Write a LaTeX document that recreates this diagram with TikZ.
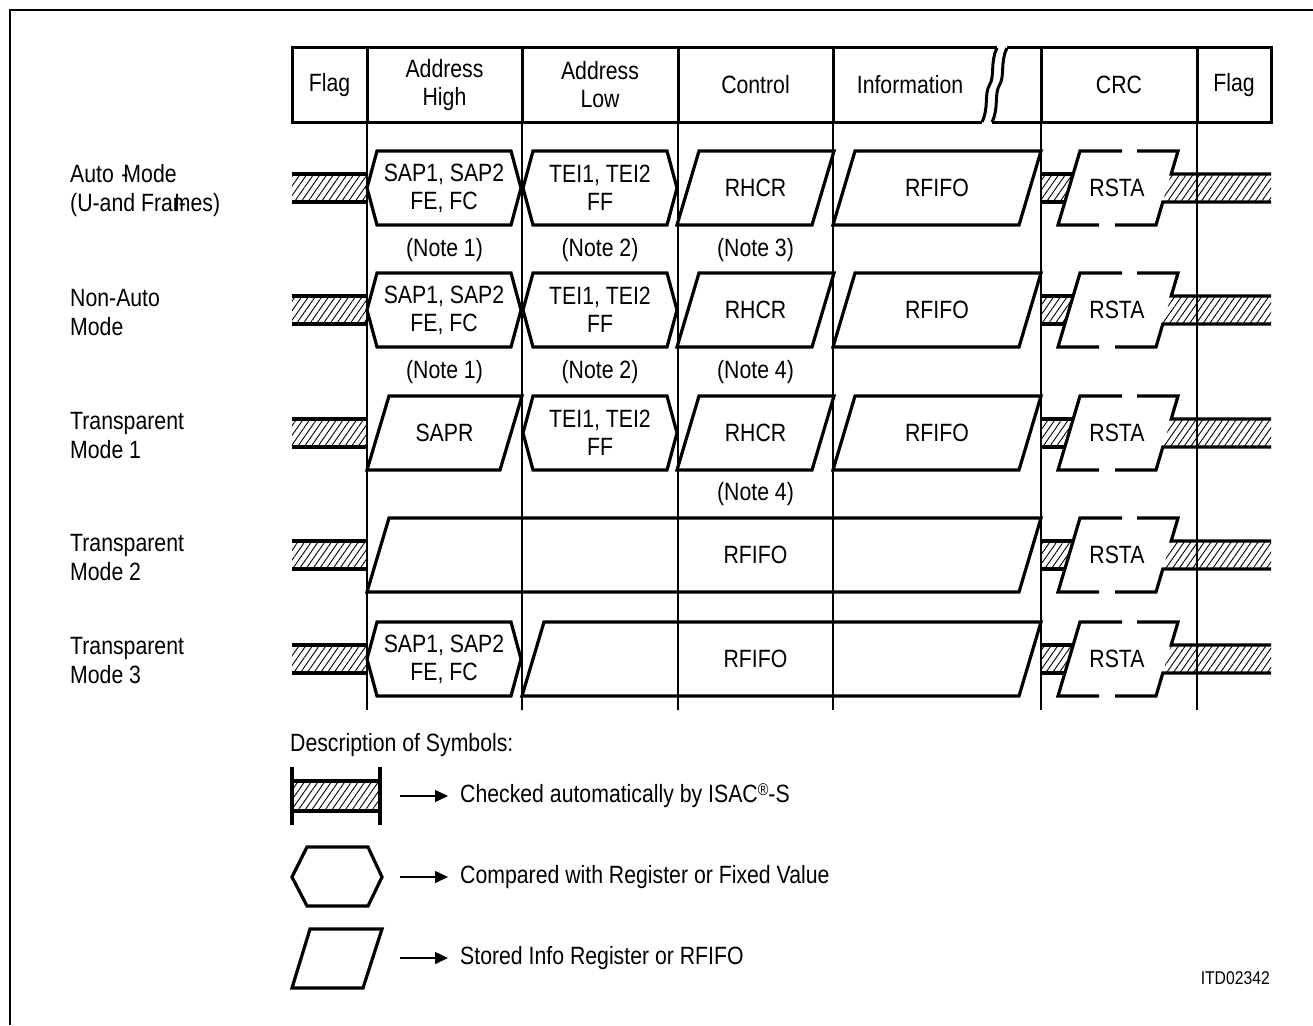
\documentclass[tikz,border=0pt]{standalone}
\usepackage{fontspec}
\setmainfont{Liberation Sans}[FakeStretch=0.85]
\usetikzlibrary{patterns.meta,arrows.meta}

\newcommand\hatchLeft[1]{%
  \fill[hatchfill] (292,#1-14) rectangle (367,#1+14);
  \draw[shp] (292,#1-14) -- (367,#1-14) (292,#1+14) -- (367,#1+14);}
\newcommand\hexShape[5]{% x1 x2 c name text
  \draw[shp] (#1,#3) -- (#1+10,#3-37) -- (#2-10,#3-37) -- (#2,#3) -- (#2-10,#3+37) -- (#1+10,#3+37) -- cycle;
  \node[lbl] (#4) at ({(#1+#2)/2},#3) {#5};}
\newcommand\paraShape[6]{% x1 x2 c name text textx
  \draw[shp] (#1,#3+37) -- (#1+22,#3-37) -- (#2,#3-37) -- (#2-22,#3+37) -- cycle;
  \node[lbl] (#4) at (#6,#3) {#5};}
\newcommand\rstaShape[2]{% c name
  \fill[hatchfill] (1041,#1-14) -- (1073.2,#1-14) -- (1064.8,#1+14) -- (1041,#1+14) -- cycle;
  \fill[hatchfill] (1171.2,#1-14) -- (1271,#1-14) -- (1271,#1+14) -- (1162.8,#1+14) -- cycle;
  \draw[shp] (1041,#1-14) -- (1073.2,#1-14) (1041,#1+14) -- (1064.8,#1+14);
  \draw[shp] (1122,#1-37) -- (1080,#1-37) -- (1058,#1+37) -- (1099,#1+37);
  \draw[shp] (1137,#1-37) -- (1178,#1-37) -- (1171.2,#1-14) -- (1271,#1-14);
  \draw[shp] (1271,#1+14) -- (1162.8,#1+14) -- (1156,#1+37) -- (1115,#1+37);
  \node[lbl] (#2) at (1117,#1) {RSTA};}

\begin{document}
\begin{tikzpicture}[x=1pt,y=-1pt,
  shp/.style={line width=3.2pt,line join=miter},
  hdr/.style={line width=3pt},
  lane/.style={line width=1.2pt},
  hatchfill/.style={pattern={Lines[angle=55,distance=5.5pt,line width=0.9pt]}},
  lbl/.style={font=\fontsize{25}{28}\selectfont,inner sep=0pt,align=center},
  rowlbl/.style={font=\fontsize{25}{29}\selectfont,inner sep=0pt,align=left,anchor=west},
  legarrow/.style={line width=1.5pt,-{Triangle[length=13pt,width=12pt]},shorten >=12pt}]
\useasboundingbox (0,0) rectangle (1313,1025);
\fill[white] (0,0) rectangle (1313,1025);
% outer frame
\draw[line width=2.7pt] (10,1025) -- (10,10) -- (1313,10);

% header
\draw[hdr] (997,48) -- (292,48) -- (292,122) -- (982,122);
\draw[hdr] (1007,48) -- (1271,48) -- (1271,122) -- (992,122);
\draw[hdr] (997,48) .. controls (990,62) and (995,76) .. (989.5,85) .. controls (984,94) and (989,108) .. (982,122);
\draw[hdr] (1007,48) .. controls (1000,62) and (1005,76) .. (999.5,85) .. controls (994,94) and (999,108) .. (992,122);
\foreach \x in {367,522,678,833,1041,1197} \draw[hdr] (\x,48) -- (\x,122);
\foreach \x in {367,522,678,833,1041,1197} \draw[lane] (\x,122) -- (\x,710);

\node[lbl] (hflag1) at (329.5,85) {Flag};
\node[lbl] (hah) at (444.5,85) {Address\\High};
\node[lbl] (hal) at (600,85) {Address\\Low};
\node[lbl] (hctl) at (755.5,85) {Control};
\node[lbl] (hinf) at (910,85) {Information};
\node[lbl] (hcrc) at (1119,85) {CRC};
\node[lbl] (hflag2) at (1234,85) {Flag};

% row labels
\node[rowlbl] (l1) at (70,191) {Auto\hspace{0.3em}-\kern-0.2em Mode\\(U-and Fra\rlap{\kern0.05em I\kern-0.05em-}mes)};
\node[rowlbl] (l2) at (70,313) {Non-Auto\\Mode};
\node[rowlbl] (l3) at (70,436) {Transparent\\Mode 1};
\node[rowlbl] (l4) at (70,558) {Transparent\\Mode 2};
\node[rowlbl] (l5) at (70,661) {Transparent\\Mode 3};

% row 1
\hatchLeft{188}
\hexShape{367}{521}{188}{r1a}{SAP1, SAP2\\FE, FC}
\hexShape{523}{677}{188}{r1b}{TEI1, TEI2\\FF}
\paraShape{677}{834}{188}{r1c}{RHCR}{755.5}
\paraShape{833}{1041}{188}{r1d}{RFIFO}{937}
\rstaShape{188}{r1e}
\node[lbl] (n11) at (444.5,250) {(Note 1)};
\node[lbl] (n12) at (600,250) {(Note 2)};
\node[lbl] (n13) at (755.5,250) {(Note 3)};

% row 2
\hatchLeft{310}
\hexShape{367}{521}{310}{r2a}{SAP1, SAP2\\FE, FC}
\hexShape{523}{677}{310}{r2b}{TEI1, TEI2\\FF}
\paraShape{677}{834}{310}{r2c}{RHCR}{755.5}
\paraShape{833}{1041}{310}{r2d}{RFIFO}{937}
\rstaShape{310}{r2e}
\node[lbl] (n21) at (444.5,372) {(Note 1)};
\node[lbl] (n22) at (600,372) {(Note 2)};
\node[lbl] (n23) at (755.5,372) {(Note 4)};

% row 3
\hatchLeft{433}
\paraShape{367}{522}{433}{r3a}{SAPR}{444.5}
\hexShape{523}{677}{433}{r3b}{TEI1, TEI2\\FF}
\paraShape{677}{834}{433}{r3c}{RHCR}{755.5}
\paraShape{833}{1041}{433}{r3d}{RFIFO}{937}
\rstaShape{433}{r3e}
\node[lbl] (n33) at (755.5,494) {(Note 4)};

% row 4
\hatchLeft{555}
\paraShape{367}{1041}{555}{r4a}{RFIFO}{755.5}
\rstaShape{555}{r4e}

% row 5
\hatchLeft{659}
\hexShape{367}{521}{659}{r5a}{SAP1, SAP2\\FE, FC}
\paraShape{522}{1041}{659}{r5b}{RFIFO}{755.5}
\rstaShape{659}{r5e}

% legend
\node[lbl,anchor=west] (dsc) at (290,745) {Description of Symbols:};
\fill[hatchfill] (292,781) rectangle (380,811);
\draw[shp] (292,767) -- (292,825) (380,767) -- (380,825) (292,781) -- (380,781) (292,811) -- (380,811);
\draw[shp] (292,877) -- (307,847) -- (368,847) -- (382,877) -- (368,906) -- (307,906) -- cycle;
\draw[shp] (292,988) -- (310,929) -- (382,929) -- (363,988) -- cycle;
\coordinate (a1) at (400,796);
\coordinate (a2) at (400,877);
\coordinate (a3) at (400,958);
\node[lbl,anchor=west] (t1) at (460,796) {Checked automatically by ISAC\raisebox{0.55ex}{\fontsize{17}{17}\selectfont\textregistered}-S};
\node[lbl,anchor=west] (t2) at (460,877) {Compared with Register or Fixed Value};
\node[lbl,anchor=west] (t3) at (460,958) {Stored Info Register or RFIFO};
\draw[legarrow] (a1) -- (t1.west);
\draw[legarrow] (a2) -- (t2.west);
\draw[legarrow] (a3) -- (t3.west);

\node[font=\fontsize{18.5}{20}\selectfont,inner sep=0pt,anchor=east] (itd) at (1270,978) {ITD02342};
\end{tikzpicture}
\end{document}
